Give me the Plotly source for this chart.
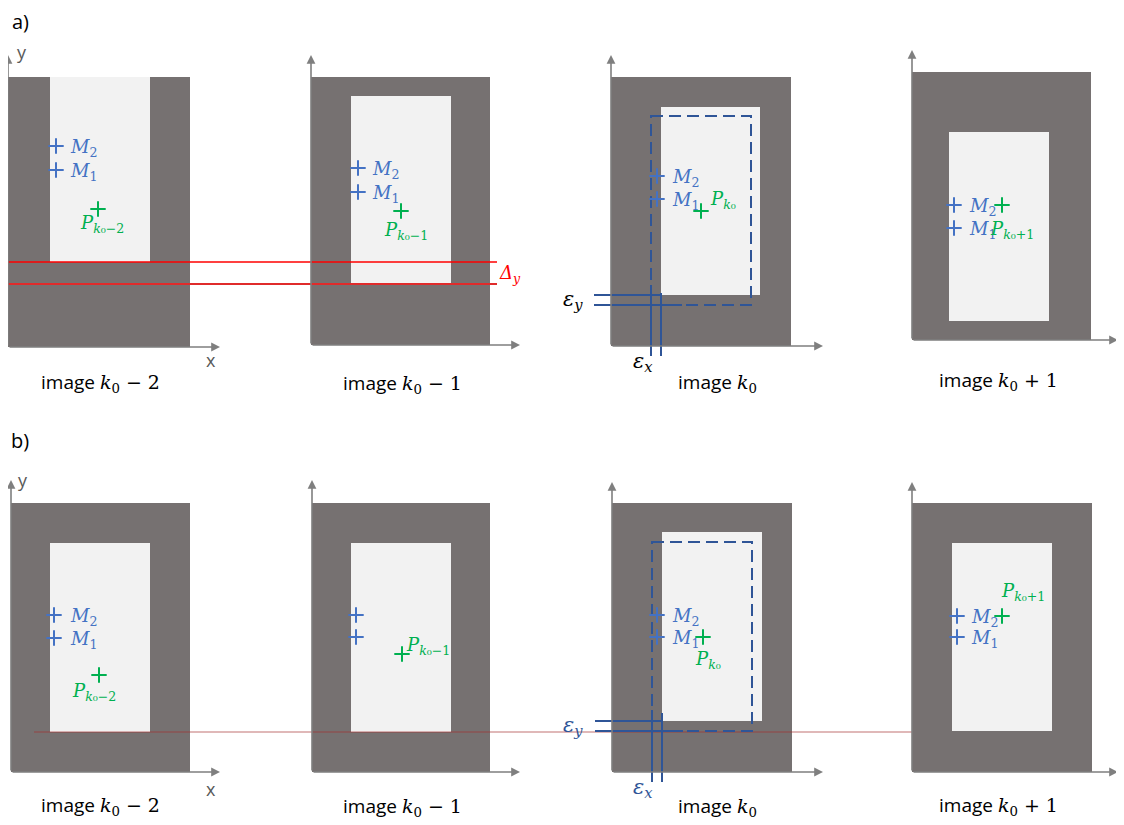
import plotly.graph_objects as go

W, H = 1124, 825
OFF = 8  # default page margin of the browser body

# ---------------- data (pixel coordinates of the diagram canvas, y downward) ----------------
# outer dark frames: x0, y0, x1, y1
A_DARK = [(8, 77, 190, 347), (311, 77, 490, 345), (611, 77, 791, 346), (912, 72, 1091, 340)]
B_DARK = [(11, 503, 190, 772), (312, 503, 490, 772), (612, 503, 792, 772), (912, 503, 1092, 772)]
# inner light windows
A_LIGHT = [(50, 77, 150, 262), (351, 96, 451, 283), (661, 107, 760, 295), (949, 132, 1049, 321)]
B_LIGHT = [(50, 543, 150, 732), (351, 543, 451, 732), (662, 532, 762, 721), (952, 543, 1052, 731)]
# axes: origin x, origin y, y-arrow tip, x-arrow tip
A_AXES = [(8, 347, 55, 220), (311, 345, 55, 520), (611, 346, 55, 823), (912, 340, 50, 1118)]
B_AXES = [(11, 772, 480, 220), (312, 772, 480, 520), (612, 772, 482, 823), (912, 772, 482, 1118)]
# markers M2, M1, P
A_M2 = [(56, 146), (358, 168), (657, 176), (954, 205)]
A_M1 = [(56, 170), (358, 192), (657, 199), (954, 228)]
A_P = [(98, 209), (401, 211), (701, 211), (1002, 205)]
B_M2 = [(54, 615), (356, 615), (657, 615), (957, 616)]
B_M1 = [(54, 638), (356, 637), (657, 637), (957, 637)]
B_P = [(99, 675), (402, 654), (703, 637), (1002, 616)]
# P labels: left x, centre y, subscript
A_PLAB = [(78, 224, "−2"), (382, 231, "−1"), (708, 200, ""), (988, 230, "+1")]
B_PLAB = [(70, 692, "−2"), (404, 646, "−1"), (693, 660, ""), (999, 592, "+1")]
# M labels: left x (None = no label)
A_MLABX = [68, 370, 670, 967]
B_MLABX = [68, None, 670, 969]
# image captions
CAPTIONS = ["−2", "−1", "", "+1"]
A_CAP = [(100, 382), (402, 383), (717, 382), (998, 380)]
B_CAP = [(100, 805), (402, 806), (717, 806), (998, 805)]
# dashed shifted frame in image k0
A_DASH = (651, 116, 751, 305)
B_DASH = (652, 542, 752, 731)

DARK = "#767171"
LIGHT = "#F2F2F2"
AXC = "#7F7F7F"
BLUE = "#4472C4"
GREEN = "#00B050"
NAVY = "#2F5597"
MATH = "DejaVu Serif"
SANS = "Open Sans"

fig = go.Figure()
shapes = []
ann = []


def rect(b, color):
    shapes.append(dict(type="rect", x0=b[0], y0=b[1], x1=b[2], y1=b[3],
                       fillcolor=color, line=dict(width=0), layer="below"))


def line(x0, y0, x1, y1, color, width=2, dash="solid"):
    shapes.append(dict(type="line", x0=x0, y0=y0, x1=x1, y1=y1,
                       line=dict(color=color, width=width, dash=dash), layer="below"))


def arrow(x0, y0, x1, y1):
    ann.append(dict(x=x1, y=y1, ax=x0, ay=y0, xref="x", yref="y", axref="x", ayref="y",
                    text="", showarrow=True, arrowhead=2, arrowsize=1.1, arrowwidth=1.6,
                    arrowcolor=AXC))


def text(x, y, t, size, color="black", family=MATH, xanchor="left"):
    ann.append(dict(x=x, y=y, xref="x", yref="y", text=t, showarrow=False,
                    xanchor=xanchor, yanchor="middle",
                    font=dict(family=family, size=size, color=color)))


for dark, light in zip(A_DARK + B_DARK, A_LIGHT + B_LIGHT):
    rect(dark, DARK)
    rect(light, LIGHT)

for ox, oy, ytip, xtip in A_AXES + B_AXES:
    arrow(ox, oy, ox, ytip)
    arrow(ox, oy, xtip, oy)

# row a: red reference lines and Δy
line(7, 262, 497, 262, "#FF0000", 1.6)
line(7, 284, 497, 284, "#E02B2B", 1.8)
text(497, 274, "<i>Δ</i><sub><i>y</i></sub>", 18, "#FF0000")

# row b: common reference line
line(34, 732, 912, 732, "rgba(165,45,45,0.45)", 1.5)

# dashed frames
for d in (A_DASH, B_DASH):
    shapes.append(dict(type="rect", x0=d[0], y0=d[1], x1=d[2], y1=d[3],
                       line=dict(color=NAVY, width=2, dash="12px,6px"),
                       fillcolor="rgba(0,0,0,0)", layer="below"))

# epsilon construction lines
line(594, 295, 662, 295, NAVY, 2)
line(594, 305, 682, 305, NAVY, 2)
line(651, 285, 651, 356, NAVY, 2)
line(661, 293, 661, 356, NAVY, 2)
line(595, 721, 663, 721, NAVY, 2)
line(595, 731, 683, 731, NAVY, 2)
line(652, 710, 652, 782, NAVY, 2)
line(662, 713, 662, 782, NAVY, 2)
text(573, 300, "<i>ε</i><sub><i>y</i></sub>", 21, "black", xanchor="center")
text(643, 362, "<i>ε</i><sub><i>x</i></sub>", 21, "black", xanchor="center")
text(573, 726, "<i>ε</i><sub><i>y</i></sub>", 21, NAVY, xanchor="center")
text(643, 788, "<i>ε</i><sub><i>x</i></sub>", 21, NAVY, xanchor="center")

# markers
def crosses(pts, color):
    fig.add_trace(go.Scatter(x=[p[0] for p in pts], y=[p[1] for p in pts], mode="markers",
                             marker=dict(symbol="cross-thin", size=11,
                                         line=dict(width=2, color=color)),
                             hoverinfo="skip", showlegend=False))

crosses(A_M2 + A_M1 + B_M2 + B_M1, BLUE)
crosses(A_P + B_P, GREEN)

# M labels
for m2, m1, lx in zip(A_M2 + B_M2, A_M1 + B_M1, A_MLABX + B_MLABX):
    if lx is None:
        continue
    text(lx, m2[1] + 2, "<i>M</i><sub>2</sub>", 18, BLUE)
    text(lx, m1[1] + 2, "<i>M</i><sub>1</sub>", 18, BLUE)

# P labels
for lx, ly, s in A_PLAB + B_PLAB:
    text(lx, ly, "<i>P</i><sub><i>k</i>₀" + s + "</sub>", 18, GREEN)

# captions
for (cx, cy), s in zip(A_CAP + B_CAP, CAPTIONS + CAPTIONS):
    extra = (" " + s.replace("−", "− ").replace("+", "+ ")) if s else ""
    text(cx, cy, "image <span style='font-family:DejaVu Serif'><i>k</i><sub>0</sub>" + extra + "</span>",
         19, "black", family=SANS, xanchor="center")

# axis letters and panel tags
text(22, 52, "y", 18, "#595959", family=SANS, xanchor="center")
text(211, 360, "x", 18, "#595959", family=SANS, xanchor="center")
text(23, 480, "y", 18, "#595959", family=SANS, xanchor="center")
text(211, 789, "x", 18, "#595959", family=SANS, xanchor="center")
text(20, 21, "a)", 20, "black", family=SANS, xanchor="center")
text(20, 440, "b)", 20, "black", family=SANS, xanchor="center")

fig.update_layout(
    width=W - OFF, height=H - OFF, margin=dict(l=0, r=0, t=0, b=0),
    paper_bgcolor="white", plot_bgcolor="white",
    xaxis=dict(range=[OFF, W], visible=False, fixedrange=True),
    yaxis=dict(range=[H, OFF], visible=False, fixedrange=True),
    shapes=shapes, annotations=ann, showlegend=False,
)
fig.write_html("out.html")
